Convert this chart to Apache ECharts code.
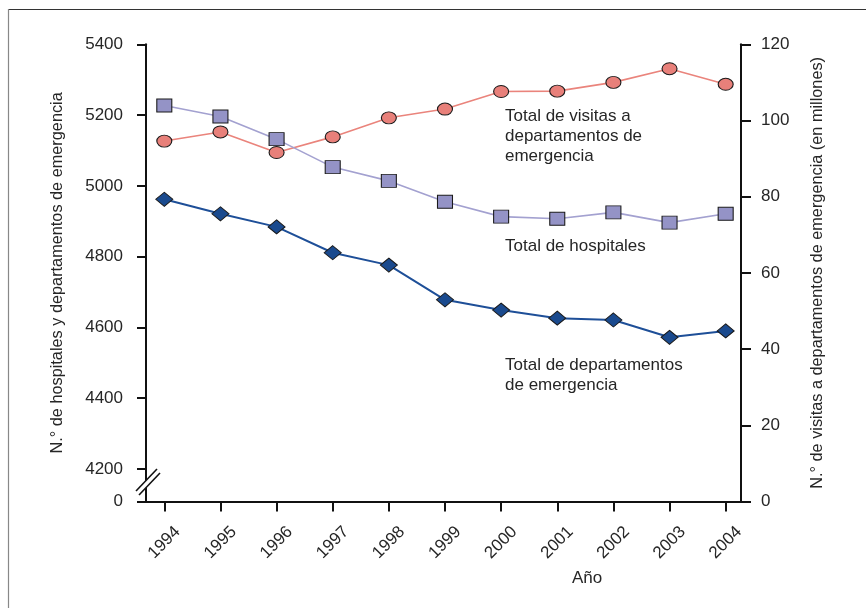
<!DOCTYPE html>
<html><head><meta charset="utf-8">
<script src="https://cdn.jsdelivr.net/npm/echarts@6/dist/echarts.min.js"></script>
<style>html,body{margin:0;padding:0;background:#fff}#c{width:866px;height:608px}</style>
</head><body><div id="c"></div>
<script>
const years = [1994,1995,1996,1997,1998,1999,2000,2001,2002,2003,2004];
const hospitals = [5227,5196,5132,5053,5014,4955,4913,4907,4925,4896,4921];
const emergencyDepts = [4962,4921,4884,4811,4776,4678,4649,4626,4621,4572,4590];
const visits = [94.6,97.0,91.6,95.7,100.7,103.0,107.6,107.7,110.0,113.6,109.5];
const leftTickValues = [4200,4400,4600,4800,5000,5200,5400];
const rightTickValues = [0,20,40,60,80,100,120];
const LEFT_ZERO = 4108;   // position of the "0" label below the axis break
const X_MIN = 1993.674, X_MAX = 2004.273;

const FONT = '"Liberation Sans",Arial,sans-serif';
const TXT = '#262626';
const FS = 17;
const FS_NAME = 16.3;

const pairs = arr => years.map((y,i)=>[y,arr[i]]);

const chart = echarts.init(document.getElementById('c'), null, {renderer:'canvas'});
const axisLineStyle = {color:'#111', width:2};

chart.setOption({
  animation:false,
  backgroundColor:'#fff',
  textStyle:{fontFamily:FONT},
  grid:{left:146, right:125, top:44.3, bottom:106.5, containLabel:false, outerBoundsMode:'none'},
  xAxis:{
    type:'value', min:X_MIN, max:X_MAX,
    axisLine:{show:true, onZero:false, lineStyle:axisLineStyle},
    axisTick:{show:true, length:10, customValues:years, lineStyle:axisLineStyle},
    axisLabel:{customValues:years, rotate:45, align:'center', verticalAlign:'middle', margin:41,
      fontSize:FS, color:TXT, fontFamily:FONT, formatter:v=>String(Math.round(v))},
    splitLine:{show:false}
  },
  yAxis:[{
    type:'value', position:'left', min:LEFT_ZERO, max:5400,
    axisLine:{show:true, lineStyle:axisLineStyle},
    axisTick:{show:true, length:9, customValues:[LEFT_ZERO].concat(leftTickValues), lineStyle:axisLineStyle},
    axisLabel:{customValues:[LEFT_ZERO].concat(leftTickValues), margin:23, fontSize:FS, color:TXT, fontFamily:FONT,
      formatter:v=> v < 4150 ? '0' : String(Math.round(v))},
    splitLine:{show:false},
    name:'N.° de hospitales y departamentos de emergencia', nameLocation:'middle', nameRotate:90, nameGap:80,
    nameTextStyle:{fontSize:FS_NAME, color:TXT, fontFamily:FONT}
  },{
    type:'value', position:'right', min:0, max:120, interval:20,
    axisLine:{show:true, lineStyle:axisLineStyle},
    axisTick:{show:true, length:10, lineStyle:axisLineStyle},
    axisLabel:{margin:20, fontSize:FS, color:TXT, fontFamily:FONT},
    splitLine:{show:false},
    name:'N.° de visitas a departamentos de emergencia (en millones)', nameLocation:'middle', nameRotate:90, nameGap:69,
    nameTextStyle:{fontSize:FS_NAME, color:TXT, fontFamily:FONT}
  }],
  series:[
    {type:'line', name:'Total de visitas', yAxisIndex:1, data:pairs(visits),
     symbol:'circle', symbolSize:[15,12], lineStyle:{color:'#ea847c', width:1.6},
     itemStyle:{color:'#e8807a', borderColor:'#1a1a1a', borderWidth:1}, z:3},
    {type:'line', name:'Total de hospitales', yAxisIndex:0, data:pairs(hospitals),
     symbol:'rect', symbolSize:[15,13], lineStyle:{color:'#a3a1d0', width:1.6},
     itemStyle:{color:'#9493c6', borderColor:'#1a1a1a', borderWidth:1}, z:4},
    {type:'line', name:'Total de departamentos', yAxisIndex:0, data:pairs(emergencyDepts),
     symbol:'diamond', symbolSize:[17,14], lineStyle:{color:'#1e4f98', width:2},
     itemStyle:{color:'#1a4a8e', borderColor:'#1a1a1a', borderWidth:1}, z:5}
  ],
  graphic:[
    {type:'line', shape:{x1:8,y1:9.5,x2:866,y2:9.5}, style:{stroke:'#333', lineWidth:1}, silent:true},
    {type:'line', shape:{x1:8.5,y1:9,x2:8.5,y2:608}, style:{stroke:'#888', lineWidth:1.2}, silent:true},
    {type:'polygon', shape:{points:[[136,491],[157,469],[160,473],[139,495]]}, style:{fill:'#fff'}, z:100, silent:true},
    {type:'line', shape:{x1:136,y1:491,x2:157,y2:469}, style:{stroke:'#111', lineWidth:1.6}, z:101, silent:true},
    {type:'line', shape:{x1:139,y1:495,x2:160,y2:473}, style:{stroke:'#111', lineWidth:1.6}, z:101, silent:true},
    {type:'text', x:505, y:106.7, style:{text:'Total de visitas a\ndepartamentos de\nemergencia', fill:TXT, font:FS+'px '+FONT, lineHeight:20, verticalAlign:'top'}},
    {type:'text', x:505, y:236.7, style:{text:'Total de hospitales', fill:TXT, font:FS+'px '+FONT, lineHeight:20, verticalAlign:'top'}},
    {type:'text', x:505, y:355, style:{text:'Total de departamentos\nde emergencia', fill:TXT, font:FS+'px '+FONT, lineHeight:20, verticalAlign:'top'}},
    {type:'text', x:587, y:578, style:{text:'Año', fill:TXT, font:FS+'px '+FONT, align:'center', verticalAlign:'middle'}}
  ]
});
</script></body></html>
